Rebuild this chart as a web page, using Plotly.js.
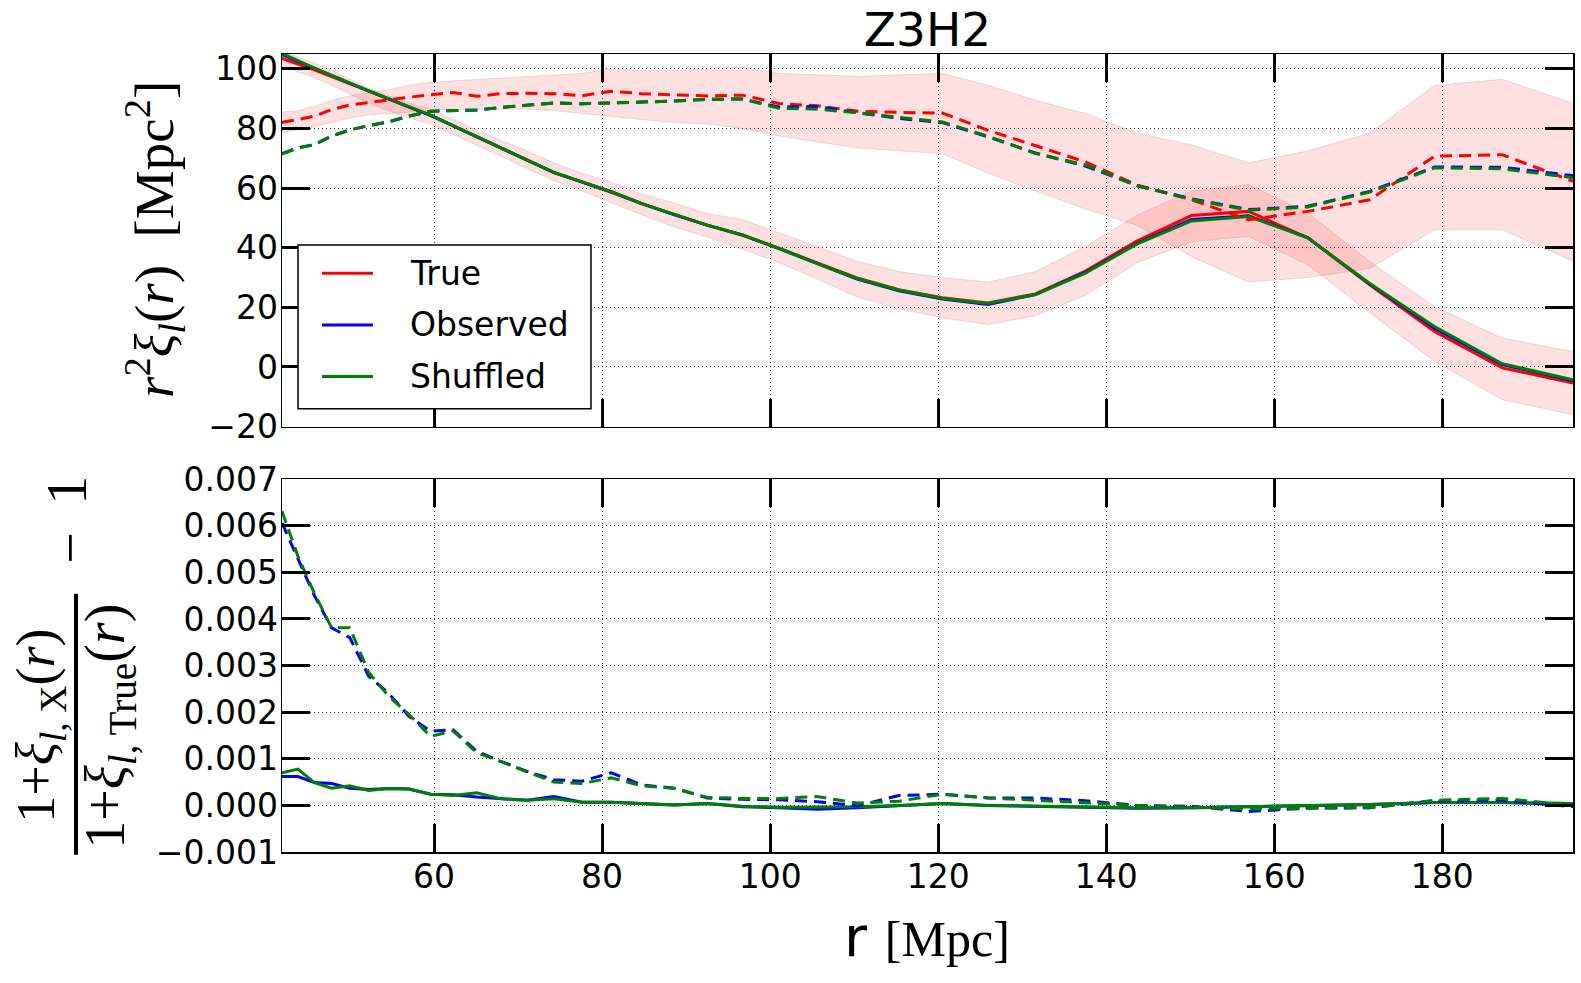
<!DOCTYPE html>
<html>
<head>
<meta charset="utf-8">
<script src="https://cdn.plot.ly/plotly-3.0.1.min.js"></script>
<style>html,body{margin:0;padding:0;background:#fff;}</style>
</head>
<body>
<div id="chart" style="width:1581px;height:983px;"></div>
<script>
// r bins [Mpc]
const r = [41.90, 43.79, 45.76, 47.81, 49.97, 52.22, 54.56, 57.02, 59.59, 62.27, 65.07, 68.00, 71.06, 74.25, 77.60, 81.09, 84.74, 88.55, 92.53, 96.70, 101.05, 105.60, 110.35, 115.32, 120.50, 125.93, 131.59, 137.52, 143.70, 150.17, 156.93, 163.99, 171.37, 179.08, 187.14, 195.56];

// top panel: r^2 xi_l(r), solid multipole
const trueSolid = [103.5, 101.7, 99.7, 97.4, 95.0, 92.5, 89.9, 87.2, 84.4, 80.9, 77.2, 73.3, 69.3, 65.2, 62.0, 58.6, 54.7, 51.1, 47.5, 44.2, 39.9, 34.9, 29.9, 25.9, 23.2, 21.5, 24.5, 32.2, 42.3, 50.8, 52.2, 43.3, 27.6, 11.9, -0.3, -5.4];
const obsSolid  = [104.8, 102.5, 100.2, 97.8, 95.2, 92.6, 89.9, 87.2, 84.4, 80.9, 77.3, 73.4, 69.4, 65.3, 62.1, 58.8, 54.8, 51.1, 47.6, 44.3, 39.7, 34.6, 29.5, 25.6, 22.8, 21.0, 24.3, 31.8, 41.5, 49.5, 50.7, 43.4, 27.8, 13.0, 0.8, -4.6];
const shufSolid = [105.2, 102.7, 100.3, 97.8, 95.2, 92.6, 90.0, 87.3, 84.5, 81.0, 77.3, 73.4, 69.4, 65.3, 62.1, 58.8, 54.8, 51.2, 47.6, 44.3, 39.8, 34.7, 29.7, 25.8, 23.0, 21.3, 24.3, 31.5, 41.3, 49.0, 50.5, 43.3, 28.0, 13.6, 1.1, -4.3];
const trueSolidLo = [101.0, 99.0, 97.0, 94.5, 91.5, 88.5, 86.0, 83.5, 81.5, 78.0, 74.5, 70.5, 66.5, 62.5, 59.0, 55.0, 51.0, 47.0, 43.5, 39.5, 35.0, 29.5, 23.5, 19.5, 16.5, 14.2, 17.2, 24.0, 35.0, 42.0, 43.8, 34.3, 18.1, 1.9, -11.0, -16.0];
const trueSolidHi = [106.0, 104.0, 102.0, 99.5, 96.5, 93.5, 91.0, 88.5, 86.5, 83.0, 79.5, 76.0, 72.5, 68.5, 65.0, 62.0, 58.0, 55.0, 51.5, 49.5, 45.0, 40.5, 35.5, 32.0, 30.0, 28.5, 32.0, 40.5, 51.0, 59.0, 61.2, 51.7, 35.4, 20.3, 9.7, 5.2];

// top panel: dashed multipole
const trueDash = [82.1, 83.0, 84.2, 86.3, 87.9, 88.8, 89.6, 90.5, 91.3, 92.1, 90.8, 91.7, 91.8, 91.7, 91.0, 92.5, 91.7, 91.3, 90.9, 91.2, 88.4, 87.6, 85.8, 85.4, 85.2, 79.4, 74.3, 68.8, 61.0, 56.1, 49.4, 52.2, 56.1, 70.7, 71.2, 62.3];
const obsDash  = [71.6, 73.5, 74.6, 77.5, 79.5, 81.0, 82.2, 84.2, 85.8, 86.1, 86.2, 87.1, 87.9, 88.6, 88.3, 88.6, 88.9, 89.2, 89.8, 89.9, 87.2, 87.4, 85.3, 83.4, 82.0, 77.2, 71.8, 67.4, 60.8, 56.4, 52.8, 53.9, 58.9, 67.1, 67.0, 64.2];
const shufDash = [71.4, 73.5, 74.6, 77.5, 79.5, 81.0, 82.2, 84.2, 85.8, 86.1, 86.2, 87.1, 87.9, 88.5, 88.3, 88.6, 88.9, 89.2, 89.8, 89.9, 86.8, 86.5, 85.3, 83.8, 82.2, 77.4, 71.6, 67.8, 60.8, 56.2, 52.6, 53.7, 58.7, 66.8, 66.5, 63.5];
const trueDashLo = [78.5, 79.5, 80.5, 82.0, 83.5, 84.5, 85.0, 85.5, 86.0, 86.5, 86.5, 86.5, 86.5, 86.0, 85.0, 84.0, 83.0, 82.0, 81.5, 80.0, 77.5, 75.5, 73.5, 72.5, 71.5, 65.0, 59.0, 53.0, 47.5, 37.0, 28.5, 30.0, 33.0, 46.0, 46.0, 35.5];
const trueDashHi = [85.5, 86.0, 87.5, 89.5, 91.0, 92.0, 93.0, 94.5, 95.5, 96.0, 96.5, 97.0, 97.5, 98.0, 98.5, 100.0, 99.5, 99.5, 100.0, 100.5, 98.5, 98.0, 97.5, 98.0, 98.5, 94.5, 89.5, 85.0, 78.5, 74.5, 68.5, 72.5, 78.5, 94.5, 96.5, 88.5];

// bottom panel: (1+xi_X)/(1+xi_True) - 1
const ratioObsDash  = [0.00606, 0.00530, 0.00450, 0.00381, 0.00360, 0.00277, 0.00241, 0.00191, 0.00159, 0.00162, 0.00116, 0.00094, 0.00073, 0.00055, 0.00052, 0.00070, 0.00044, 0.00037, 0.00016, 0.00013, 0.00012, 0.00008, -0.00001, 0.00021, 0.00024, 0.00016, 0.00016, 0.00010, 0.00000, -0.00002, -0.00013, -0.00006, -0.00005, 0.00009, 0.00011, -0.00003];
const ratioShufDash = [0.00631, 0.00535, 0.00455, 0.00381, 0.00381, 0.00285, 0.00235, 0.00195, 0.00148, 0.00160, 0.00113, 0.00094, 0.00072, 0.00050, 0.00047, 0.00059, 0.00042, 0.00037, 0.00017, 0.00015, 0.00015, 0.00019, 0.00005, 0.00009, 0.00024, 0.00016, 0.00011, 0.00005, 0.00000, -0.00004, -0.00008, -0.00006, -0.00005, 0.00011, 0.00015, 0.00000];
const ratioObsSolid  = [0.00062, 0.00062, 0.00049, 0.00047, 0.00037, 0.00034, 0.00036, 0.00035, 0.00024, 0.00023, 0.00018, 0.00014, 0.00011, 0.00019, 0.00007, 0.00007, 0.00004, 0.00001, 0.00004, -0.00003, -0.00005, -0.00008, -0.00005, 0.00000, 0.00004, 0.00000, -0.00002, -0.00003, -0.00006, -0.00005, -0.00003, 0.00000, 0.00002, 0.00006, 0.00006, 0.00004];
const ratioShufSolid = [0.00070, 0.00078, 0.00049, 0.00037, 0.00042, 0.00032, 0.00036, 0.00035, 0.00024, 0.00021, 0.00027, 0.00014, 0.00011, 0.00014, 0.00007, 0.00007, 0.00004, 0.00001, 0.00004, -0.00002, -0.00004, -0.00004, -0.00003, 0.00000, 0.00004, 0.00000, -0.00002, -0.00003, -0.00005, -0.00005, -0.00003, 0.00000, 0.00002, 0.00006, 0.00006, 0.00004];

const seriesNames = ['True', 'Observed', 'Shuffled'];
const seriesColors = ['#ff0000', '#0000ff', '#008000'];
const xTicks = [60, 80, 100, 120, 140, 160, 180];
const yTopTicks = [-20, 0, 20, 40, 60, 80, 100];
const yBotTicks = [-0.001, 0, 0.001, 0.002, 0.003, 0.004, 0.005, 0.006, 0.007];
const titleText = 'Z3H2';

const [RED, BLUE, GREEN] = seriesColors;
const DASH = '12px,7px';
const LW = 3;
const bandLine = {color: 'rgba(0,0,0,0.10)', width: 1};
const bandFill = 'rgba(255,0,0,0.12)';

function line(x, y, color, dash, name, xa, ya) {
  return {type: 'scatter', mode: 'lines', x: x, y: y, name: name,
    line: {color: color, width: LW, dash: dash}, xaxis: xa, yaxis: ya,
    showlegend: false, hoverinfo: 'skip'};
}

const traces = [
  {type:'scatter', mode:'lines', x:r, y:trueSolidLo, line:bandLine, xaxis:'x', yaxis:'y', showlegend:false, hoverinfo:'skip'},
  {type:'scatter', mode:'lines', x:r, y:trueSolidHi, line:bandLine, fill:'tonexty', fillcolor:bandFill, xaxis:'x', yaxis:'y', showlegend:false, hoverinfo:'skip'},
  {type:'scatter', mode:'lines', x:r, y:trueDashLo, line:bandLine, xaxis:'x', yaxis:'y', showlegend:false, hoverinfo:'skip'},
  {type:'scatter', mode:'lines', x:r, y:trueDashHi, line:bandLine, fill:'tonexty', fillcolor:bandFill, xaxis:'x', yaxis:'y', showlegend:false, hoverinfo:'skip'},
  line(r, trueSolid, RED, 'solid', seriesNames[0], 'x', 'y'),
  line(r, obsSolid, BLUE, 'solid', seriesNames[1], 'x', 'y'),
  line(r, shufSolid, GREEN, 'solid', seriesNames[2], 'x', 'y'),
  line(r, trueDash, RED, DASH, seriesNames[0], 'x', 'y'),
  line(r, obsDash, BLUE, DASH, seriesNames[1], 'x', 'y'),
  line(r, shufDash, GREEN, DASH, seriesNames[2], 'x', 'y'),
  line(r, ratioObsSolid, BLUE, 'solid', seriesNames[1], 'x2', 'y2'),
  line(r, ratioShufSolid, GREEN, 'solid', seriesNames[2], 'x2', 'y2'),
  line(r, ratioObsDash, BLUE, DASH, seriesNames[1], 'x2', 'y2'),
  line(r, ratioShufDash, GREEN, DASH, seriesNames[2], 'x2', 'y2')
];

const tickFont = {family: 'DejaVu Sans', size: 33, color: '#000'};
const axBase = {
  ticks: 'inside', ticklen: 28, tickwidth: 3, tickcolor: '#000',
  mirror: 'ticks', showline: true, linecolor: '#000', linewidth: 1.5,
  showgrid: true, gridcolor: '#333', griddash: '1px,3px', gridwidth: 1,
  zeroline: false, tickfont: tickFont, fixedrange: true
};
const xRange = [r[0], r[r.length - 1]];

// pixel -> paper helpers (plot area: x 282..1573, y 54..852.3)
const PX = px => (px - 282) / 1291;
const PY = py => (852.3 - py) / 798.3;

const SERIF = 'Liberation Serif';
const annotations = [
  {text: 'r <span style="font-family:Liberation Serif;font-size:50px">[Mpc]</span>',
   xref: 'paper', yref: 'paper', x: PX(927), y: PY(937), xanchor: 'center', yanchor: 'middle',
   showarrow: false, font: {family: 'DejaVu Sans', size: 56, color: '#000'}},
  {text: '<i>r</i><sup>2</sup><i>ξ</i><sub><i>l</i></sub>(<i>r</i>)  [Mpc<sup>2</sup>]',
   xref: 'paper', yref: 'paper', x: PX(155), y: PY(240), xanchor: 'center', yanchor: 'middle',
   textangle: -90, showarrow: false, font: {family: SERIF, size: 55, color: '#000'}},
  {text: '1+<i>ξ</i><sub><i>l</i>, X</sub>(<i>r</i>)',
   xref: 'paper', yref: 'paper', x: PX(40), y: PY(726), xanchor: 'center', yanchor: 'middle',
   textangle: -90, showarrow: false, font: {family: SERIF, size: 54, color: '#000'}},
  {text: '1+<i>ξ</i><sub><i>l</i>, True</sub>(<i>r</i>)',
   xref: 'paper', yref: 'paper', x: PX(109), y: PY(727), xanchor: 'center', yanchor: 'middle',
   textangle: -90, showarrow: false, font: {family: SERIF, size: 56, color: '#000'}},
  {text: '−', xref: 'paper', yref: 'paper', x: PX(70), y: PY(548), xanchor: 'center', yanchor: 'middle',
   textangle: -90, showarrow: false, font: {family: SERIF, size: 56, color: '#000'}},
  {text: '1', xref: 'paper', yref: 'paper', x: PX(67), y: PY(491), xanchor: 'center', yanchor: 'middle',
   textangle: -90, showarrow: false, font: {family: SERIF, size: 58, color: '#000'}}
];
const shapes = [
  {type: 'line', xref: 'paper', yref: 'paper', x0: PX(76), x1: PX(76), y0: PY(594), y1: PY(855),
   line: {color: '#000', width: 4}},
  // legend box
  {type: 'rect', xref: 'paper', yref: 'paper', x0: PX(298), x1: PX(591), y0: PY(409), y1: PY(245),
   fillcolor: '#fff', line: {color: '#000', width: 1.5}, layer: 'above'}
];
const legendRows = [273.3, 325, 376.5];
seriesNames.forEach((nm, k) => {
  shapes.push({type: 'line', xref: 'paper', yref: 'paper', x0: PX(322), x1: PX(373),
    y0: PY(legendRows[k]), y1: PY(legendRows[k]), line: {color: seriesColors[k], width: LW}});
  annotations.push({text: nm, xref: 'paper', yref: 'paper', x: PX(408), y: PY(legendRows[k]),
    xanchor: 'left', yanchor: 'middle', showarrow: false,
    font: {family: 'DejaVu Sans', size: 33, color: '#000'}});
});

const layout = {
  width: 1581, height: 983,
  margin: {l: 282, r: 8, t: 54, b: 131, pad: 0},
  paper_bgcolor: '#fff', plot_bgcolor: '#fff',
  title: {text: titleText, font: {family: 'DejaVu Sans', size: 47, color: '#000'},
          x: 0.5, xref: 'paper', y: 1 - 30/983, yref: 'container', yanchor: 'middle'},
  xaxis: Object.assign({}, axBase, {range: xRange, tickvals: xTicks, showticklabels: false, anchor: 'y'}),
  yaxis: Object.assign({}, axBase, {range: [-20, 105], tickvals: yTopTicks, domain: [0.5331, 1], anchor: 'x', ticklabelstandoff: -4}),
  xaxis2: Object.assign({}, axBase, {range: xRange, tickvals: xTicks, anchor: 'y2', ticklabelstandoff: -5}),
  yaxis2: Object.assign({}, axBase, {range: [-0.001, 0.007], tickvals: yBotTicks, tickformat: '.3f', domain: [0, 0.4672], anchor: 'x2', ticklabelstandoff: -4}),
  showlegend: false,
  annotations: annotations,
  shapes: shapes
};

Plotly.newPlot('chart', traces, layout, {displayModeBar: false, staticPlot: true});
</script>
</body>
</html>
